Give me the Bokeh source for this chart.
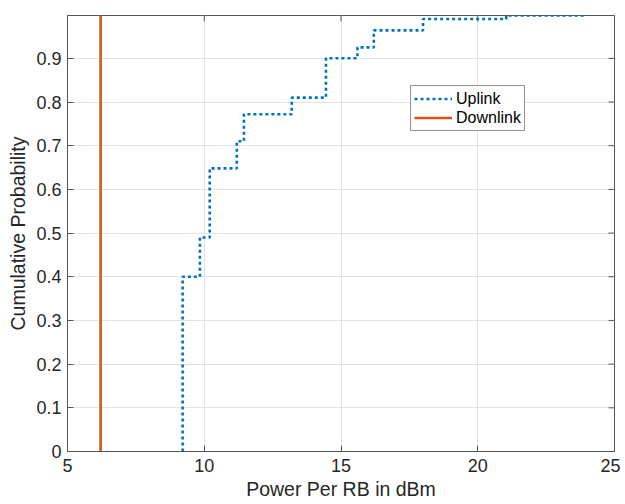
import math
from bokeh.plotting import figure
from bokeh.models import Range1d, FixedTicker, Legend, LegendItem
from bokeh.embed import file_html
from bokeh.resources import INLINE

# Data
uplink_x = [9.21, 9.21, 9.84, 10.20, 11.19, 11.45, 13.20, 14.45, 15.60, 16.20, 18.00, 21.04, 23.97]
uplink_y = [0.0, 0.40, 0.49, 0.648, 0.71, 0.772, 0.81, 0.90, 0.925, 0.964, 0.99, 0.998, 0.998]
downlink_x = [6.21, 6.21]
downlink_y = [0.0, 1.0]
x_ticks = [5, 10, 15, 20, 25]
y_ticks = [0, 0.1, 0.2, 0.3, 0.4, 0.5, 0.6, 0.7, 0.8, 0.9]
x_min, x_max = 5, 25
y_min, y_max = 0, 0.998

FONT = "Liberation Sans"
AX = "#555555"
TXT = "#262626"

p = figure(width=620, height=504, output_backend="svg", toolbar_location=None,
           x_range=Range1d(x_min, x_max), y_range=Range1d(y_min, y_max),
           min_border_left=67, min_border_right=6, min_border_top=15, min_border_bottom=53,
           x_axis_label="Power Per RB in dBm", y_axis_label="Cumulative Probability")
p.outline_line_color = AX
p.outline_line_width = 1
p.background_fill_color = "white"

for ax in p.xaxis + p.yaxis:
    ax.axis_line_color = AX
    ax.major_tick_line_color = AX
    ax.major_tick_in = 6
    ax.major_tick_out = 0
    ax.minor_tick_line_color = None
    ax.major_label_text_font = FONT
    ax.major_label_text_font_size = "18px"
    ax.major_label_text_color = TXT
    ax.axis_label_text_font = FONT
    ax.axis_label_text_font_size = "19.5px"
    ax.axis_label_text_font_style = "normal"
    ax.axis_label_text_color = TXT
p.xaxis.ticker = FixedTicker(ticks=x_ticks)
p.yaxis.ticker = FixedTicker(ticks=y_ticks)
p.yaxis.major_label_overrides = {0: "0"}
p.xaxis.major_label_standoff = 7
p.xaxis.axis_label_standoff = 3
p.yaxis.major_label_standoff = 6
p.yaxis.axis_label_standoff = 4

# inward ticks on the top and right edges of the box
p.scatter(x_ticks, [y_max] * len(x_ticks), marker="dash", angle=math.pi / 2, size=12,
          line_color=AX, line_width=1)
p.scatter([x_max] * len(y_ticks), y_ticks, marker="dash", angle=0, size=12,
          line_color=AX, line_width=1)

p.xgrid.ticker = FixedTicker(ticks=x_ticks)
p.ygrid.ticker = FixedTicker(ticks=y_ticks)
p.grid.grid_line_color = "#e3e3e3"
p.grid.grid_line_width = 1

up = p.step(uplink_x, uplink_y, mode="after", line_color="#0072BD", line_width=2.6, line_dash="3 3")
dn = p.line(downlink_x, downlink_y, line_color="#D95319", line_width=2.6)

legend = Legend(items=[LegendItem(label="Uplink", renderers=[up]),
                       LegendItem(label="Downlink", renderers=[dn])],
                location=(343, 320), orientation="vertical")
legend.label_text_font = FONT
legend.label_text_font_size = "16px"
legend.label_text_color = "#000000"
legend.glyph_width = 38
legend.glyph_height = 19
legend.label_height = 19
legend.label_standoff = 4
legend.padding = 3
legend.spacing = 0
legend.margin = 0
legend.border_line_color = "#262626"
legend.border_line_width = 1
legend.background_fill_alpha = 1
p.add_layout(legend, "center")

open("out.html", "w").write(file_html(p, INLINE))
